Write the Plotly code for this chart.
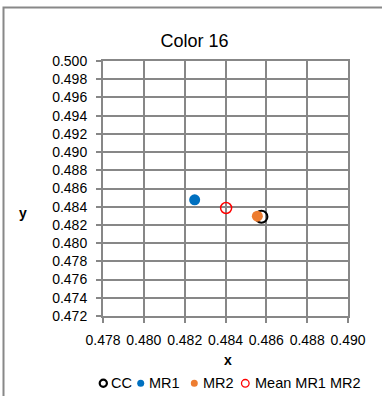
import plotly.graph_objects as go

# Data
series_names = ["CC", "MR1", "MR2", "Mean MR1 MR2"]
x_values = [0.48576, 0.48249, 0.48556, 0.48403]
y_values = [0.48289, 0.48476, 0.48296, 0.48386]
x_ticks = [0.478, 0.480, 0.482, 0.484, 0.486, 0.488, 0.490]
y_ticks = [0.472, 0.474, 0.476, 0.478, 0.480, 0.482, 0.484, 0.486, 0.488,
           0.490, 0.492, 0.494, 0.496, 0.498, 0.500]

# Styles
fills = ["rgba(0,0,0,0)", "#0070C0", "#ED7D31", "rgba(0,0,0,0)"]
edges = ["#000000", "#0070C0", "#ED7D31", "#FF0000"]
edge_w = [2, 0, 0, 1.5]
sizes = [12, 11, 11, 11]

FONT = "Liberation Sans"
GRID = "#878787"
TICKFONT = dict(family=FONT, size=14, color="#000000")

# plot-area geometry (pixels) used to place legend pieces in paper coords
L, T, W, H = 103, 61, 245, 255
def px(x):
    return (x - L) / W
def py(y):
    return (T + H - y) / H

fig = go.Figure()
for i, name in enumerate(series_names):
    fig.add_trace(go.Scatter(
        x=[x_values[i]], y=[y_values[i]], mode="markers", name=name,
        marker=dict(size=sizes[i], color=fills[i],
                    line=dict(color=edges[i], width=edge_w[i])),
        showlegend=False,
    ))

# custom compact legend (Excel style)
leg_sym_x = [103.3, 140.7, 194.3, 245.3]
leg_txt_x = [108.5, 147, 201, 252.5]
leg_sym_r = [3.6, 3.5, 3.5, 3.8]
leg_sym_lw = [2.2, 0, 0, 1.3]
leg_y = 383.3

shapes = [
    dict(type="rect", xref="paper", yref="paper",
         x0=px(3.5), x1=1.3, y0=-0.5, y1=py(7.5),
         line=dict(color="#888888", width=2), fillcolor="rgba(0,0,0,0)",
         layer="below"),
]
annotations = [
    dict(text="<b>x</b>", xref="paper", yref="paper", x=px(228), y=py(360),
         showarrow=False, xanchor="center", yanchor="middle",
         font=dict(family=FONT, size=14)),
    dict(text="<b>y</b>", xref="paper", yref="paper", x=px(23), y=py(213),
         showarrow=False, xanchor="center", yanchor="middle",
         font=dict(family=FONT, size=14)),
]
for i, name in enumerate(series_names):
    r = leg_sym_r[i]
    shapes.append(dict(
        type="circle", xref="paper", yref="paper",
        x0=px(leg_sym_x[i] - r), x1=px(leg_sym_x[i] + r),
        y0=py(leg_y + r), y1=py(leg_y - r),
        fillcolor=fills[i] if fills[i] != "rgba(0,0,0,0)" else "white",
        line=dict(color=edges[i], width=leg_sym_lw[i]),
    ))
    annotations.append(dict(
        text=name, xref="paper", yref="paper", x=px(leg_txt_x[i]), y=py(leg_y),
        showarrow=False, xanchor="left", yanchor="middle",
        font=dict(family=FONT, size=14.5, color="#000000"),
    ))

fig.update_layout(
    width=382, height=396,
    margin=dict(l=L, r=382 - L - W, t=T, b=396 - T - H),
    paper_bgcolor="white", plot_bgcolor="white",
    font=dict(family=FONT, size=14, color="#000000"),
    title=dict(text="Color 16", x=0.509, xanchor="center", y=1 - 41 / 396,
               yanchor="middle", yref="container",
               font=dict(family=FONT, size=18, color="#000000")),
    xaxis=dict(range=[x_ticks[0], x_ticks[-1]], tickvals=x_ticks,
               ticktext=[f"{v:.3f}" for v in x_ticks], tickfont=TICKFONT,
               showgrid=True, gridcolor=GRID, gridwidth=2,
               showline=True, linecolor=GRID, linewidth=2, mirror=True,
               ticks="outside", ticklen=5, tickwidth=2, tickcolor=GRID,
               ticklabelstandoff=5, zeroline=False),
    yaxis=dict(range=[y_ticks[0], y_ticks[-1]], tickvals=y_ticks,
               ticktext=[f"{v:.3f}" for v in y_ticks], tickfont=TICKFONT,
               showgrid=True, gridcolor=GRID, gridwidth=2,
               showline=True, linecolor=GRID, linewidth=2, mirror=True,
               ticks="outside", ticklen=5, tickwidth=2, tickcolor=GRID,
               ticklabelstandoff=6, zeroline=False),
    annotations=annotations,
    shapes=shapes,
    showlegend=False,
)

fig.write_html("out.html", config={"displayModeBar": False},
               post_script="document.body.style.margin='0px';")
